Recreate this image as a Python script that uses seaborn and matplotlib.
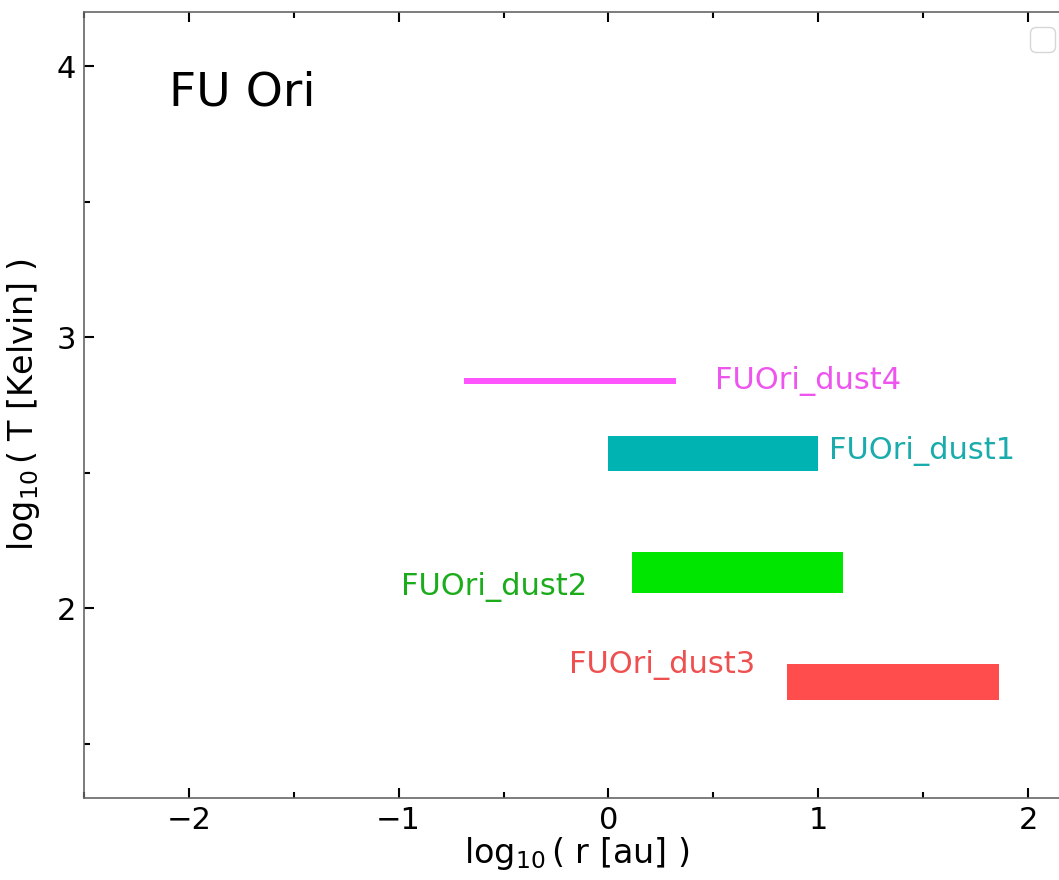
import warnings
warnings.filterwarnings("ignore")
import matplotlib
matplotlib.use("Agg")
import matplotlib.pyplot as plt
from matplotlib.ticker import MultipleLocator
import seaborn as sns
import pandas as pd

# ---- data ----
names = ["FUOri_dust1", "FUOri_dust2", "FUOri_dust3", "FUOri_dust4"]
log_r_min = [0.00, 0.11, 0.85, -0.69]
log_r_max = [1.00, 1.12, 1.86, 0.32]
log_T_min = [2.505, 2.055, 1.663, 2.828]
log_T_max = [2.637, 2.207, 1.793, 2.850]

bar_colors = ["#00b3b3", "#00e600", "#ff4d4d", "#ff55ff"]
text_colors = ["#1aacac", "#1aac1a", "#ee5050", "#ee55ee"]
label_x = [1.05, -0.10, 0.70, 0.51]
label_y = [2.58, 2.08, 1.79, 2.838]
label_ha = ["left", "right", "right", "left"]

df = pd.DataFrame({"name": names, "rmin": log_r_min, "rmax": log_r_max,
                   "tmin": log_T_min, "tmax": log_T_max})

sns.set_style("ticks")
plt.rcParams["font.family"] = ["DejaVu Sans"]

fig = plt.figure(figsize=(10.59, 8.80), dpi=100)
ax = fig.add_axes([84 / 1059, 82 / 880, 986 / 1059, 786 / 880])

for i, row in df.iterrows():
    ax.barh(y=(row.tmin + row.tmax) / 2, width=row.rmax - row.rmin,
            left=row.rmin, height=row.tmax - row.tmin,
            color=bar_colors[i], edgecolor="none")
    ax.text(label_x[i], label_y[i], row["name"], color=text_colors[i],
            fontsize=22, ha=label_ha[i], va="center")

ax.text(-2.095, 3.9, "FU Ori", fontsize=34, color="black", ha="left", va="center")

ax.set_xlim(-2.5, 2.2)
ax.set_ylim(1.3, 4.2)
ax.xaxis.set_major_locator(MultipleLocator(1))
ax.xaxis.set_minor_locator(MultipleLocator(0.5))
ax.yaxis.set_major_locator(MultipleLocator(1))
ax.yaxis.set_minor_locator(MultipleLocator(0.5))
ax.tick_params(which="both", direction="in", top=True, right=True,
               colors="black", labelsize=22, width=1.5)
ax.tick_params(which="major", length=7, pad=6)
ax.tick_params(which="minor", length=4.5)
for sp in ax.spines.values():
    sp.set_visible(True)
    sp.set_color("0.4")
    sp.set_linewidth(1.2)

ax.set_xlabel(r"$\log_{10}$( r [au] )", fontsize=24, labelpad=0, color="black")
ax.set_ylabel(r"$\log_{10}$( T [Kelvin] )", fontsize=24, labelpad=10, color="black")
ax.legend(fontsize=22, loc="upper right")

fig.savefig("out.png", dpi=100)
